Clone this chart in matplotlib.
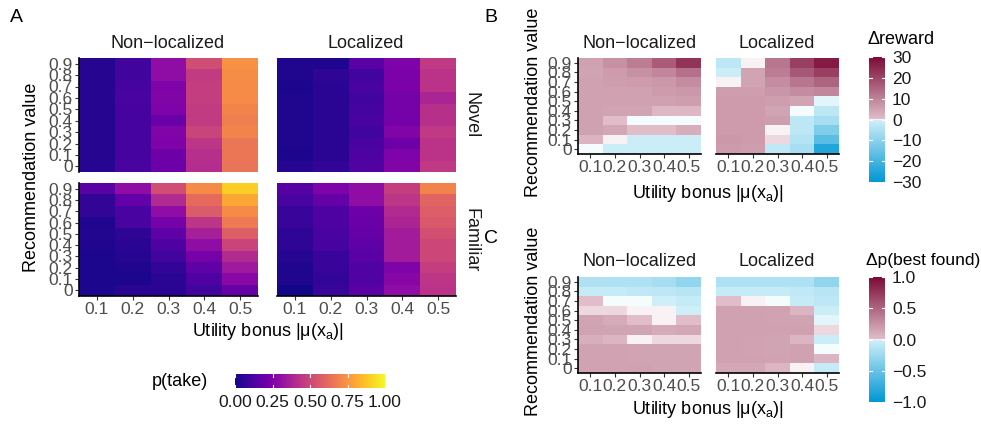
import numpy as np
import matplotlib
matplotlib.use("Agg")
import matplotlib.pyplot as plt
from matplotlib.colors import LinearSegmentedColormap, Normalize
from matplotlib.cm import ScalarMappable

plt.rcParams["font.family"] = ["Liberation Sans", "DejaVu Sans"]
plt.rcParams["mathtext.fontset"] = "custom"
plt.rcParams["mathtext.rm"] = "Liberation Sans"
plt.rcParams["mathtext.it"] = "Liberation Sans:italic"

bonus = [0.1, 0.2, 0.3, 0.4, 0.5]
bonus_labels = ["0.1", "0.2", "0.3", "0.4", "0.5"]
rec = [0, 0.1, 0.2, 0.3, 0.4, 0.5, 0.6, 0.7, 0.8, 0.9]
rec_labels = ["0", "0.1", "0.2", "0.3", "0.4", "0.5", "0.6", "0.7", "0.8", "0.9"]

# all grids below: rows listed from recommendation 0.9 down to 0, columns = bonus
take_novel_nonloc = [
    [0.04, 0.10, 0.30, 0.52, 0.74],
    [0.04, 0.10, 0.30, 0.46, 0.73],
    [0.04, 0.11, 0.25, 0.47, 0.72],
    [0.04, 0.12, 0.26, 0.47, 0.72],
    [0.04, 0.11, 0.25, 0.46, 0.70],
    [0.04, 0.11, 0.20, 0.46, 0.68],
    [0.04, 0.11, 0.26, 0.49, 0.70],
    [0.04, 0.11, 0.25, 0.44, 0.66],
    [0.04, 0.11, 0.21, 0.42, 0.66],
    [0.04, 0.12, 0.21, 0.41, 0.65],
]
take_novel_loc = [
    [0.03, 0.03, 0.16, 0.25, 0.45],
    [0.03, 0.06, 0.10, 0.24, 0.43],
    [0.02, 0.05, 0.12, 0.24, 0.43],
    [0.03, 0.05, 0.10, 0.23, 0.38],
    [0.03, 0.05, 0.11, 0.23, 0.42],
    [0.03, 0.05, 0.12, 0.23, 0.42],
    [0.03, 0.05, 0.10, 0.26, 0.45],
    [0.03, 0.05, 0.12, 0.21, 0.43],
    [0.02, 0.05, 0.13, 0.25, 0.43],
    [0.04, 0.07, 0.14, 0.26, 0.45],
]
take_fam_nonloc = [
    [0.16, 0.30, 0.52, 0.72, 0.90],
    [0.07, 0.18, 0.40, 0.62, 0.80],
    [0.07, 0.12, 0.30, 0.57, 0.72],
    [0.03, 0.12, 0.23, 0.44, 0.67],
    [0.035, 0.06, 0.17, 0.36, 0.58],
    [0.03, 0.05, 0.13, 0.30, 0.49],
    [0.02, 0.04, 0.10, 0.23, 0.40],
    [0.02, 0.03, 0.07, 0.17, 0.34],
    [0.02, 0.02, 0.05, 0.13, 0.28],
    [0.02, 0.05, 0.05, 0.10, 0.19],
]
take_fam_loc = [
    [0.15, 0.25, 0.30, 0.47, 0.70],
    [0.12, 0.19, 0.30, 0.44, 0.60],
    [0.08, 0.13, 0.21, 0.40, 0.58],
    [0.08, 0.13, 0.20, 0.38, 0.56],
    [0.06, 0.12, 0.19, 0.35, 0.53],
    [0.06, 0.11, 0.17, 0.35, 0.50],
    [0.04, 0.08, 0.16, 0.35, 0.50],
    [0.03, 0.08, 0.14, 0.25, 0.47],
    [0.03, 0.07, 0.14, 0.27, 0.44],
    [0.01, 0.08, 0.16, 0.30, 0.43],
]

reward_nonloc = [
    [5, 7.5, 11, 16.5, 23],
    [4.5, 6, 7.5, 9.5, 13],
    [5, 5.5, 6, 6.5, 8.5],
    [5, 5, 5, 6, 6.5],
    [5, 5, 5, 5, 5.5],
    [5, 4.5, 4.5, 1.2, 1.2],
    [5, 0.5, -0.1, -0.2, -0.1],
    [5, 4, 0.5, 0.55, 3],
    [2, 0, -1, -1, -1],
    [-0.2, -1, -1, -1, -1],
]
reward_loc = [
    [-3, 0.1, 12, 21, 27],
    [-1, 4.5, 11, 17, 21],
    [0, 4.5, 8.5, 12, 15],
    [5.5, 5.5, 7, 8.5, 9.5],
    [6, 6, 5.5, 4.5, -0.4],
    [6, 6, 4.5, -0.1, -3],
    [6, 6, 5.5, -3, -6],
    [6, 6, 0.1, -3, -11.5],
    [6.5, 6, 0.3, -4, -17],
    [6, 5.5, -2.5, -6, -25],
]

pbest_nonloc = [
    [-0.16, -0.17, -0.17, -0.21, -0.30],
    [-0.06, -0.06, -0.08, -0.10, -0.12],
    [0.017, -0.004, -0.006, -0.02, -0.06],
    [0.01, 0.013, 0.005, 0.005, -0.016],
    [0.15, 0.11, 0.016, 0.005, 0.02],
    [0.16, 0.15, 0.15, 0.11, 0.14],
    [0.10, 0.06, 0.003, 0.013, 0.008],
    [0.16, 0.16, 0.15, 0.15, 0.15],
    [0.16, 0.16, 0.15, 0.15, 0.15],
    [0.16, 0.16, 0.17, 0.15, 0.15],
]
pbest_loc = [
    [-0.17, -0.17, -0.17, -0.17, -0.30],
    [-0.06, -0.06, -0.06, -0.08, -0.12],
    [0.016, 0.001, -0.006, -0.06, -0.10],
    [0.17, 0.17, 0.16, 0.06, -0.03],
    [0.17, 0.17, 0.16, 0.15, -0.014],
    [0.17, 0.17, 0.17, 0.17, 0.01],
    [0.17, 0.16, 0.15, 0.06, -0.03],
    [0.17, 0.16, 0.15, 0.17, -0.003],
    [0.17, 0.17, 0.16, 0.17, 0.06],
    [0.14, 0.14, 0.06, 0.0, -0.06],
]

W, H = 981, 424
fig = plt.figure(figsize=(W / 100, H / 100), dpi=100)

div_cmap = LinearSegmentedColormap.from_list(
    "div", [(0, "#0096d4"), (0.49, "#cdeef8"), (0.5, "#ffffff"),
            (0.51, "#dfbcc7"), (1, "#7b0a36")])
plasma = plt.get_cmap("plasma")

TICK_FS = 12.5
TITLE_FS = 13
GREY = "#4d4d4d"
xlab = r"Utility bonus |μ(x$_{\mathrm{a}}$)|"


def px_axes(x0, y0, x1, y1):
    return fig.add_axes([x0 / W, 1 - y1 / H, (x1 - x0) / W, (y1 - y0) / H])


def px_text(x, y, s, **kw):
    fig.text(x / W, 1 - y / H, s, **kw)


def tile_panel(box, vals, cmap, norm, left, bottom):
    ax = px_axes(*box)
    xe = np.append(np.array(bonus) - 0.05, bonus[-1] + 0.05)
    ye = np.append(np.array(rec) - 0.05, rec[-1] + 0.05)
    ax.pcolormesh(xe, ye, np.flipud(np.array(vals)), cmap=cmap, norm=norm,
                  shading="flat")
    ax.set_xlim(xe[0], xe[-1])
    ax.set_ylim(ye[0], ye[-1])
    for side in ["top", "right"]:
        ax.spines[side].set_visible(False)
    ax.spines["left"].set_visible(left)
    ax.spines["bottom"].set_visible(bottom)
    for side in ["left", "bottom"]:
        ax.spines[side].set_linewidth(1.2)
    ax.tick_params(colors="#333333", labelcolor=GREY, labelsize=TICK_FS,
                   length=3, width=0.8, pad=1.5)
    if left:
        ax.set_yticks(rec)
        ax.set_yticklabels(rec_labels)
    else:
        ax.set_yticks([])
    if bottom:
        ax.set_xticks(bonus)
        ax.set_xticklabels(bonus_labels)
    else:
        ax.set_xticks([])
    return ax


def add_colorbar(box, cmap, norm, ticks, labels, horizontal=False):
    cax = px_axes(*box)
    cb = fig.colorbar(ScalarMappable(norm=norm, cmap=cmap), cax=cax,
                      orientation="horizontal" if horizontal else "vertical")
    cb.outline.set_visible(False)
    cb.set_ticks(ticks)
    cb.set_ticklabels(labels)
    cax.tick_params(length=0, labelsize=TICK_FS, pad=5, labelcolor="#1a1a1a")
    for t in ticks:
        if horizontal:
            cax.axvline(t, ymin=0, ymax=0.2, color="white", lw=0.8)
            cax.axvline(t, ymin=0.8, ymax=1, color="white", lw=0.8)
        else:
            cax.axhline(t, xmin=0, xmax=0.2, color="white", lw=0.8)
            cax.axhline(t, xmin=0.8, xmax=1, color="white", lw=0.8)
    return cb


# panel A: acceptance probability
take_norm = Normalize(0, 1)
tile_panel((79, 58, 258, 172), take_novel_nonloc, plasma, take_norm, True, False)
tile_panel((277, 58, 456, 172), take_novel_loc, plasma, take_norm, False, False)
tile_panel((79, 183, 258, 296), take_fam_nonloc, plasma, take_norm, True, True)
tile_panel((277, 183, 456, 296), take_fam_loc, plasma, take_norm, False, True)

px_text(10, 18, "A", fontsize=14, ha="left", va="center")
px_text(168, 43, "Non−localized", fontsize=TITLE_FS, ha="center", va="center",
        color="#1a1a1a")
px_text(366, 43, "Localized", fontsize=TITLE_FS, ha="center", va="center",
        color="#1a1a1a")
px_text(471, 115, "Novel", fontsize=TITLE_FS, ha="center", va="center",
        rotation=-90, color="#1a1a1a")
px_text(471, 240, "Familiar", fontsize=TITLE_FS, ha="center", va="center",
        rotation=-90, color="#1a1a1a")
px_text(32, 177, "Recommendation value", fontsize=TITLE_FS, ha="center",
        va="center", rotation=90)
px_text(268, 332, xlab, fontsize=TITLE_FS, ha="center", va="center")

add_colorbar((235, 374, 385, 388), plasma, take_norm,
             [0, 0.25, 0.5, 0.75, 1.0],
             ["0.00", "0.25", "0.50", "0.75", "1.00"], horizontal=True)
px_text(208, 381, "p(take)", fontsize=TITLE_FS, ha="right", va="center")

# panel B: change in reward
rew_norm = Normalize(-30, 30)
tile_panel((578, 58, 701, 154), reward_nonloc, div_cmap, rew_norm, True, True)
tile_panel((716, 58, 839, 154), reward_loc, div_cmap, rew_norm, False, True)
px_text(484, 18, "B", fontsize=14, ha="left", va="center")
px_text(640, 43, "Non−localized", fontsize=TITLE_FS, ha="center", va="center",
        color="#1a1a1a")
px_text(777, 43, "Localized", fontsize=TITLE_FS, ha="center", va="center",
        color="#1a1a1a")
px_text(533, 102, "Recommendation value", fontsize=TITLE_FS, ha="center",
        va="center", rotation=90)
px_text(708, 193, xlab, fontsize=TITLE_FS, ha="center", va="center")
add_colorbar((869, 57, 885, 182), div_cmap, rew_norm,
             [-30, -20, -10, 0, 10, 20, 30],
             ["−30", "−20", "−10", "0", "10", "20", "30"])
px_text(868, 40, "Δreward", fontsize=TITLE_FS, ha="left", va="center")

# panel C: change in probability of finding the best option
p_norm = Normalize(-1, 1)
tile_panel((578, 277, 701, 373), pbest_nonloc, div_cmap, p_norm, True, True)
tile_panel((716, 277, 839, 373), pbest_loc, div_cmap, p_norm, False, True)
px_text(484, 238, "C", fontsize=14, ha="left", va="center")
px_text(640, 262, "Non−localized", fontsize=TITLE_FS, ha="center", va="center",
        color="#1a1a1a")
px_text(777, 262, "Localized", fontsize=TITLE_FS, ha="center", va="center",
        color="#1a1a1a")
px_text(533, 321, "Recommendation value", fontsize=TITLE_FS, ha="center",
        va="center", rotation=90)
px_text(708, 410, xlab, fontsize=TITLE_FS, ha="center", va="center")
add_colorbar((869, 277, 885, 402), div_cmap, p_norm,
             [-1, -0.5, 0, 0.5, 1],
             ["−1.0", "−0.5", "0.0", "0.5", "1.0"])
px_text(866, 260, "Δp(best found)", fontsize=12.5, ha="left", va="center")

fig.savefig("out.png", dpi=100)
